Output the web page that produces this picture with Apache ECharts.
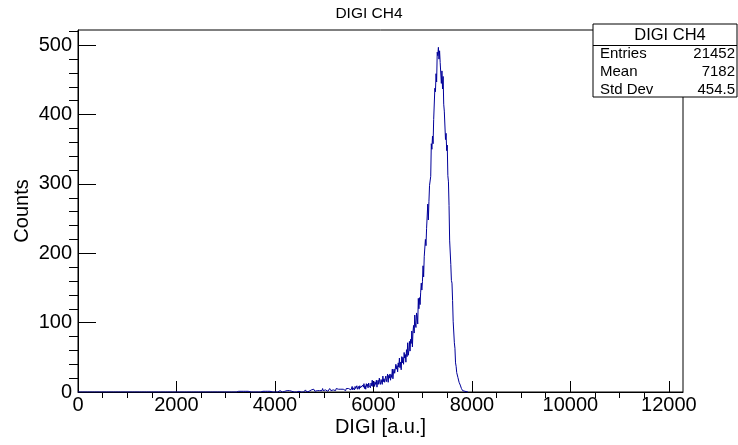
<!DOCTYPE html>
<html><head><meta charset="utf-8">
<script src="https://cdn.jsdelivr.net/npm/echarts@6/dist/echarts.min.js"></script>
<style>html,body{margin:0;padding:0;background:#fff}#c{width:738px;height:445px}</style>
</head><body><div id="c"></div><script>
// ---- data ----
const chartTitle = 'DIGI CH4';
const xTitle = 'DIGI [a.u.]';
const yTitle = 'Counts';
const binWidth = 12;      // 1024 bins over 0..12288
const xMax = 12288;
const yMax = 522;
const counts = [
0,0,0,0,0,0,0,0,0,0,0,0,0,0,0,0,0,0,0,0,
0,0,0,0,0,0,0,0,0,0,0,0,0,0,0,0,0,0,0,0,
0,0,0,0,0,0,0,0,0,0,0,0,0,0,0,0,0,0,0,0,
0,0,0,0,0,1,0,0,0,0,0,1,0,0,0,0,0,0,0,0,
0,0,1,0,0,0,0,0,0,0,1,0,0,1,0,0,0,0,0,0,
0,0,0,0,1,0,0,0,0,0,1,0,0,0,0,0,0,0,0,0,
0,1,0,0,0,0,0,0,0,0,1,0,0,0,0,0,0,0,0,0,
0,0,0,1,0,0,0,0,0,1,0,0,0,0,0,1,0,0,0,0,
0,0,0,1,0,0,0,0,0,0,0,0,1,0,0,0,0,0,1,0,
0,0,0,0,0,0,0,0,0,1,0,0,0,0,0,0,1,0,0,0,
0,1,0,0,0,0,1,0,0,0,0,0,0,1,0,0,0,0,0,1,
0,0,0,0,0,0,1,0,0,1,0,0,1,0,1,0,0,0,1,0,
0,1,0,0,1,0,0,1,0,0,0,1,0,1,0,0,1,0,0,1,
0,0,1,0,1,0,0,0,2,0,0,1,0,0,1,0,1,0,0,0,
1,0,0,1,0,1,0,0,1,0,2,0,0,1,0,1,0,1,0,0,
1,0,1,0,0,1,1,0,0,1,0,2,0,1,0,0,1,0,1,0,
1,0,0,2,0,1,0,1,0,0,1,0,1,1,0,2,0,0,1,0,
1,2,0,1,1,0,2,0,1,1,0,3,1,0,2,1,0,1,2,0,
1,1,2,0,1,3,0,1,2,1,0,2,1,1,0,2,3,1,0,2,
1,2,0,2,1,3,1,0,2,2,1,3,2,1,0,3,2,1,2,4,
2,1,3,2,0,2,3,1,4,2,2,3,1,2,5,2,3,2,1,3,
3,2,4,1,3,2,5,3,2,3,4,2,3,1,4,3,2,5,3,3,
4,2,3,5,3,4,2,6,3,4,3,5,4,2,5,4,6,3,5,4,
5,7,3,5,8,3,6,6,3,8,5,7,9,4,6,8,4,9,6,7,
8,4,10,7,12,5,9,4,12,8,11,6,13,9,11,6,13,9,17,8,
10,15,8,14,11,17,7,14,17,11,20,14,11,18,16,11,23,15,19,14,
19,23,15,19,26,14,24,20,26,17,25,21,33,19,29,33,27,26,40,33,
38,29,42,36,49,35,43,32,51,42,50,40,57,49,54,43,61,51,71,53,
60,73,59,76,70,88,65,87,96,85,111,98,93,114,110,98,135,120,136,126,
144,157,147,159,182,166,195,197,220,211,236,235,271,248,275,298,299,311,358,350,
369,358,393,392,438,433,459,447,490,485,497,480,492,475,475,445,463,437,455,415,
405,405,364,373,348,356,312,303,269,219,219,184,161,157,132,102,104,71,63,42,
37,28,29,21,22,14,16,10,9,5,5,2,3,1,0,1,0,1,0,0
];
const xMajorTicks = [0,2000,4000,6000,8000,10000,12000];
const xMinorTicks = [500,1000,1500,2500,3000,3500,4500,5000,5500,6500,7000,7500,8500,9000,9500,10500,11000,11500];
const yMajorTicks = [0,100,200,300,400,500];
const yMinorTicks = [20,40,60,80,120,140,160,180,220,240,260,280,320,340,360,380,420,440,460,480,520];
const statsLabels = ['Entries','Mean','Std Dev'];
const statsValues = ['21452','7182','454.5'];

// ---- build ----
const FONT = 'Liberation Sans, Arial, Helvetica, sans-serif';
const histData = counts.map((c, i) => [i * binWidth, c]);
histData.push([counts.length * binWidth, 0]);

function majorAxis(isX, ticks, tickLen) {
  return {
    type: 'value', min: 0, max: isX ? xMax : yMax,
    axisLine: { show: true, lineStyle: { color: '#000', width: 1 } },
    axisTick: { show: true, inside: true, length: tickLen, customValues: ticks, lineStyle: { color: '#000', width: 1 } },
    axisLabel: { show: true, customValues: ticks, formatter: v => String(v), fontSize: 20, color: '#000', fontFamily: FONT, margin: isX ? 3 : 6 },
    splitLine: { show: false },
    minorTick: { show: false }
  };
}
function minorAxis(isX, ticks, tickLen) {
  return {
    type: 'value', min: 0, max: isX ? xMax : yMax,
    axisLine: { show: false },
    axisTick: { show: true, inside: true, length: tickLen, customValues: ticks, lineStyle: { color: '#000', width: 1 } },
    axisLabel: { show: false },
    splitLine: { show: false }
  };
}
const xa0 = majorAxis(true, xMajorTicks, 11);
Object.assign(xa0, { name: xTitle, nameLocation: 'middle', nameGap: 25, nameMoveOverlap: false,
  nameTextStyle: { fontSize: 20, color: '#000', fontFamily: FONT } });
const ya0 = majorAxis(false, yMajorTicks, 18);
Object.assign(ya0, { name: yTitle, nameLocation: 'middle', nameGap: 46, nameRotate: 90, nameMoveOverlap: false,
  nameTextStyle: { fontSize: 20, color: '#000', fontFamily: FONT } });

const bx = 593, by = 24, bw = 144, bh = 73, rowY = [54, 72, 90];
const graphics = [
  { type: 'rect', z: 100, shape: { x: bx, y: by, width: bw, height: bh }, style: { fill: '#fff', stroke: '#000', lineWidth: 1 } },
  { type: 'line', z: 101, shape: { x1: bx, y1: 45.5, x2: bx + bw, y2: 45.5 }, style: { stroke: '#000', lineWidth: 1 } },
  { type: 'text', z: 102, style: { x: 670, y: 35, text: chartTitle, align: 'center', verticalAlign: 'middle', fontSize: 16.5, fontFamily: FONT, fill: '#000' } }
];
statsLabels.forEach((t, i) => {
  graphics.push({ type: 'text', z: 102, style: { x: 600, y: rowY[i], text: t, align: 'left', verticalAlign: 'middle', fontSize: 15, fontFamily: FONT, fill: '#000' } });
  graphics.push({ type: 'text', z: 102, style: { x: 735, y: rowY[i], text: statsValues[i], align: 'right', verticalAlign: 'middle', fontSize: 15, fontFamily: FONT, fill: '#000' } });
});

const chart = echarts.init(document.getElementById('c'), null, { renderer: 'canvas' });
chart.setOption({
  animation: false,
  backgroundColor: '#fff',
  title: { text: chartTitle, left: 'center', top: 1, textStyle: { fontSize: 15.5, fontWeight: 'normal', color: '#000', fontFamily: FONT } },
  grid: { left: 78, top: 30, width: 605, height: 362, show: true, borderColor: '#000', borderWidth: 1, backgroundColor: 'transparent', outerBoundsMode: 'none', containLabel: false },
  xAxis: [xa0, minorAxis(true, xMinorTicks, 6)],
  yAxis: [ya0, minorAxis(false, yMinorTicks, 9)],
  series: [{
    type: 'line', xAxisIndex: 0, yAxisIndex: 0, data: histData, step: 'end',
    symbol: 'none', showSymbol: false, silent: true,
    lineStyle: { color: '#000099', width: 1 }, z: 3
  }],
  graphic: graphics
});
</script></body></html>
